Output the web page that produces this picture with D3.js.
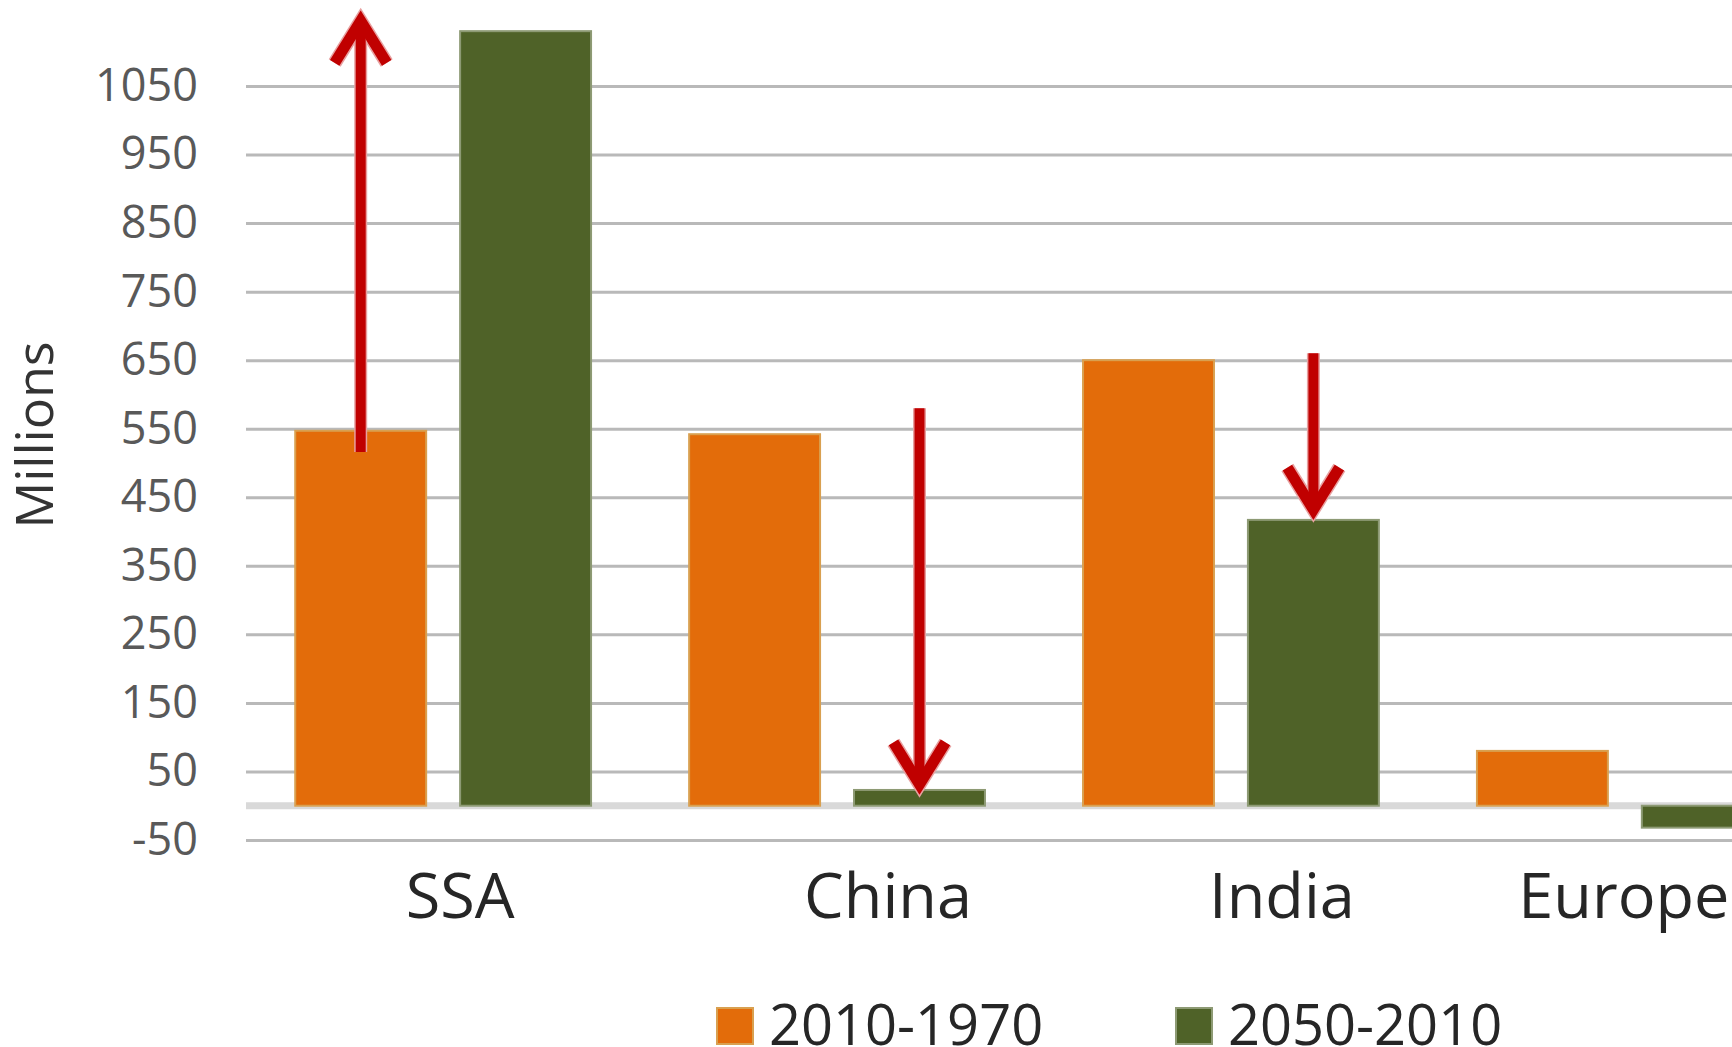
<!DOCTYPE html>
<html>
<head>
<meta charset="utf-8">
<script src="https://cdn.jsdelivr.net/npm/d3@7"></script>
<style>
  html, body { margin: 0; padding: 0; background: #ffffff; overflow: hidden; }
  svg { display: block; }
</style>
</head>
<body>
<script>
// ---------- data ----------
const categories = ["SSA", "China", "India", "Europe"];
const seriesNames = ["2010-1970", "2050-2010"];
const change2010vs1970 = [547, 542, 650, 80];
const change2050vs2010 = [1130, 23, 417, -32];
const yTickValues = [-50, 50, 150, 250, 350, 450, 550, 650, 750, 850, 950, 1050];
const yAxisTitle = "Millions";

// annotation arrows (value ranges, in millions)
const arrowCategories = ["SSA", "China", "India"];
const arrowSeries = ["2010-1970", "2050-2010", "2050-2010"];
const arrowFrom = [516, 580, 660];
const arrowTo = [1158, 18, 419];

// ---------- layout / style ----------
const W = 1732, H = 1047;
const plotLeft = 246, plotRight = 1822;
const colors = { "2010-1970": "#e36c0a", "2050-2010": "#4f6228" };
const strokes = { "2010-1970": "#d9a050", "2050-2010": "#8d9a74" };
const labelNudge = [17, 51, 51, -1];
const FONT = "'Open Sans', 'Noto Sans', sans-serif";

const svg = d3.select("body").append("svg").attr("width", W).attr("height", H);

const x0 = d3.scaleBand().domain(categories).range([plotLeft, plotRight])
  .paddingInner(0.249).paddingOuter(0.125);
const x1 = d3.scaleBand().domain(seriesNames).range([0, x0.bandwidth()])
  .paddingInner(0.206);
const y = d3.scaleLinear().domain([-50, 1050]).range([840, 86]);

// gridlines + tick labels
const yAxis = d3.axisLeft(y).tickValues(yTickValues)
  .tickSize(-(W - plotLeft)).tickPadding(48).tickFormat(d => String(d));
const gy = svg.append("g").attr("transform", `translate(${plotLeft},0)`).call(yAxis);
gy.select(".domain").remove();
gy.attr("font-family", FONT).attr("font-size", 45);
gy.selectAll(".tick line").attr("stroke", "#b9b9b9").attr("stroke-width", 3);
gy.selectAll(".tick text").attr("fill", "#595959");

// zero line
svg.append("line")
  .attr("x1", plotLeft).attr("x2", W)
  .attr("y1", y(0)).attr("y2", y(0))
  .attr("stroke", "#d9d9d9").attr("stroke-width", 7);

// bars
const rows = categories.map((c, i) => ({
  category: c,
  values: [
    { series: seriesNames[0], value: change2010vs1970[i] },
    { series: seriesNames[1], value: change2050vs2010[i] }
  ]
}));

const groups = svg.append("g").selectAll("g").data(rows).join("g")
  .attr("transform", d => `translate(${x0(d.category)},0)`);
groups.selectAll("rect").data(d => d.values).join("rect")
  .attr("x", d => x1(d.series))
  .attr("width", x1.bandwidth())
  .attr("y", d => y(Math.max(0, d.value)))
  .attr("height", d => Math.abs(y(d.value) - y(0)))
  .attr("fill", d => colors[d.series])
  .attr("stroke", d => strokes[d.series])
  .attr("stroke-width", 2);

// category labels
const xAxis = d3.axisBottom(x0).tickSize(0);
const gx = svg.append("g").attr("transform", "translate(0,918)").call(xAxis);
gx.select(".domain").remove();
gx.attr("font-family", FONT).attr("font-size", 63);
gx.selectAll(".tick text")
  .attr("y", 0).attr("dy", 0)
  .attr("dx", (d, i) => labelNudge[i])
  .attr("fill", "#262626");

// arrows
const arrows = arrowCategories.map((c, i) => ({
  cx: x0(c) + x1(arrowSeries[i]) + x1.bandwidth() / 2,
  y1: y(arrowFrom[i]),
  y2: y(arrowTo[i])
}));
const ag = svg.append("g");
arrows.forEach(a => {
  const dir = a.y2 > a.y1 ? 1 : -1;
  const vertex = a.y2 - dir * 9;
  const wingY = vertex - dir * 42;
  const shaftEnd = a.y2 - dir * 14;
  const path = `M${a.cx},${a.y1}L${a.cx},${shaftEnd}`;
  const head = `M${a.cx - 26},${wingY}L${a.cx},${vertex}L${a.cx + 26},${wingY}`;
  [["#e8a0a0", 13], ["#c00000", 10]].forEach(([col, w]) => {
    ag.append("path").attr("d", path).attr("fill", "none")
      .attr("stroke", col).attr("stroke-width", w);
    ag.append("path").attr("d", head).attr("fill", "none")
      .attr("stroke", col).attr("stroke-width", w + 1)
      .attr("stroke-linejoin", "miter").attr("stroke-miterlimit", 6);
  });
});

// y axis title
svg.append("text")
  .attr("transform", "translate(53,435) rotate(-90)")
  .attr("text-anchor", "middle")
  .attr("font-family", FONT).attr("font-size", 52)
  .attr("fill", "#333333")
  .text(yAxisTitle);

// legend
const legendX = [717, 1176];
const lg = svg.append("g");
seriesNames.forEach((s, i) => {
  lg.append("rect").attr("x", legendX[i]).attr("y", 1008)
    .attr("width", 36).attr("height", 36)
    .attr("fill", colors[s]).attr("stroke", strokes[s]).attr("stroke-width", 2);
  lg.append("text").attr("x", legendX[i] + 52).attr("y", 1045)
    .attr("font-family", FONT).attr("font-size", 56)
    .attr("fill", "#262626").text(s);
});
</script>
</body>
</html>
